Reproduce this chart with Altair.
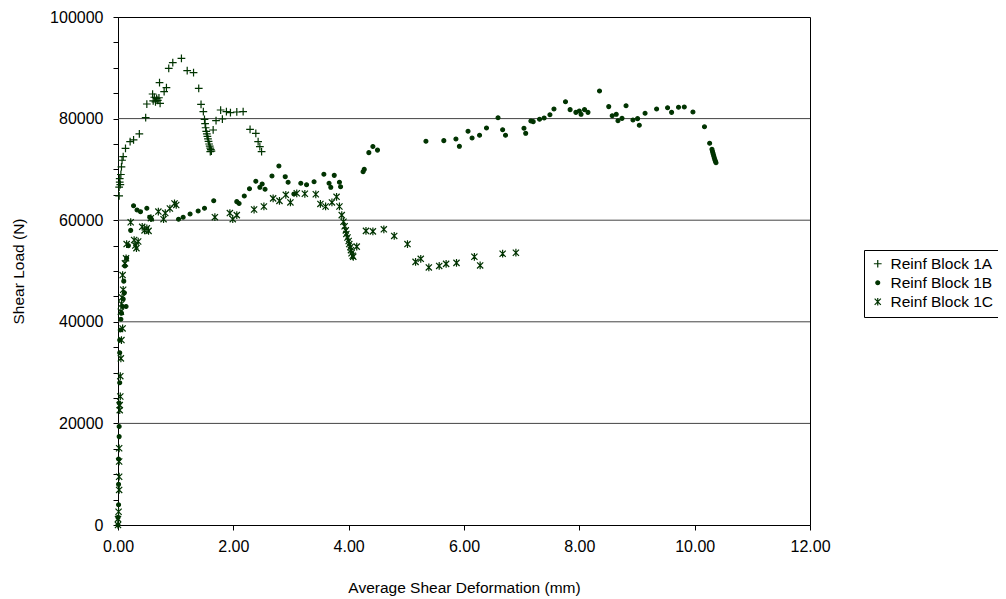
import altair as alt
import pandas as pd

# ---------------- data ----------------
series_names = ["Reinf Block 1A", "Reinf Block 1B", "Reinf Block 1C"]

a_x = [0.02, 0.02, 0.03, 0.03, 0.04, 0.05, 0.06, 0.07, 0.09, 0.13, 0.21, 0.27, 0.37, 0.48, 0.50,
       0.60, 0.61, 0.63, 0.65, 0.67, 0.69, 0.71, 0.73, 0.72, 0.80, 0.84, 0.88, 0.95, 1.10, 1.20,
       1.31, 1.40, 1.44, 1.48, 1.50, 1.51, 1.52, 1.53, 1.54, 1.55, 1.56, 1.57, 1.58, 1.59, 1.60,
       1.61, 1.62, 1.60, 1.65, 1.70, 1.78, 1.81, 1.88, 1.95, 2.06, 2.17, 2.29, 2.39, 2.43, 2.46, 2.49]
a_y = [64800, 66500, 67500, 68200, 67000, 69000, 70500, 71800, 72500, 74150, 75460, 75800, 77000, 80180, 82870,
       84840, 83500, 84200, 83300, 84000, 83600, 84100, 83000, 87070, 85300, 86100, 89900, 91000, 91860, 89430,
       89040, 85960, 82810, 81360, 79860, 79000, 78200, 77500, 77000, 76500, 76000, 75500, 75000, 74600, 74200,
       73900, 73600, 73490, 77760, 79590, 81690, 79920, 81360, 81160, 81300, 81360, 77890, 77100, 75460, 74470, 73490]

b_x = [0.00, 0.00, 0.01, 0.01, 0.01, 0.02, 0.02, 0.02, 0.03, 0.03, 0.03, 0.04, 0.05, 0.06, 0.08,
       0.09, 0.11, 0.14, 0.10, 0.12, 0.15, 0.18, 0.22,
       0.27, 0.33, 0.39, 0.50, 0.55, 0.58, 1.05, 1.13, 1.25, 1.39, 1.50, 1.66, 2.06, 2.10, 2.19,
       2.28, 2.39, 2.46, 2.50, 2.55, 2.67, 2.79, 2.90, 2.95, 3.05, 3.17, 3.27, 3.40, 3.57, 3.66,
       3.69, 3.75, 3.84, 3.86, 4.25, 4.27, 4.35, 4.42, 4.50,
       5.34, 5.65, 5.86, 5.92, 6.07, 6.14, 6.27, 6.39, 6.59, 6.67, 6.72, 7.04, 7.07, 7.16, 7.20,
       7.31, 7.39, 7.49, 7.56, 7.76, 7.84, 7.94, 8.00, 8.03, 8.09, 8.15, 8.35, 8.51, 8.57, 8.64,
       8.67, 8.74, 8.81, 8.93, 9.01, 9.04, 9.14, 9.34, 9.53, 9.60, 9.72, 9.82, 9.97, 10.17, 10.26,
       10.30, 10.31, 10.32, 10.33, 10.34, 10.35, 10.36, 10.37]
b_y = [0, 1500, 4000, 8000, 13000, 17400, 19400, 24000, 28000, 33900, 36400, 38400, 40500, 41700, 43000,
       44500, 45700, 43000, 48000, 51000, 52500, 55000, 58000,
       62860, 62000, 61680, 62340, 60570, 60180, 60180, 60570, 61220, 61810, 62340, 63840, 63650, 63300, 64760,
       66200, 67660, 66470, 67130, 66080, 68700, 70670, 68570, 67460, 65160, 67260, 66990, 67580, 69040, 67260,
       66470, 68830, 67460, 66600, 69550, 70000, 73300, 74500, 73800,
       75530, 75660, 75990, 74540, 77500, 76180, 76710, 78150, 80180, 77820, 76710, 78090, 77100, 79530, 79400,
       79860, 80120, 80770, 81890, 83330, 81760, 81230, 81500, 80840, 81760, 81230, 85430, 82360, 80570, 80840,
       79590, 80050, 82540, 79720, 79990, 78680, 81040, 81890, 82150, 81230, 82220, 82280, 81300, 78380, 75140,
       73950, 73500, 73100, 72700, 72300, 71900, 71600, 71300]

c_x = [0.00, 0.00, 0.01, 0.02, 0.02, 0.02, 0.02, 0.03, 0.03, 0.04, 0.04, 0.05, 0.06, 0.08, 0.05,
       0.06, 0.07, 0.09, 0.08, 0.12, 0.14, 0.15, 0.22, 0.28, 0.32, 0.35, 0.30, 0.42, 0.50, 0.53,
       0.46, 0.57, 0.70, 0.79, 0.82, 0.90, 0.98, 1.01, 1.68, 1.94, 1.99, 2.06, 2.36, 2.53, 2.69,
       2.80, 2.91, 2.99, 3.10, 3.24, 3.43, 3.51, 3.60, 3.71, 3.79, 3.84, 3.88, 3.91, 3.93, 3.95,
       3.96, 3.98, 4.00, 4.01, 4.03, 4.04, 4.05, 4.07, 4.08, 4.14, 4.30, 4.42, 4.61, 4.79, 5.02,
       5.16, 5.25, 5.39, 5.57, 5.69, 5.87, 6.18, 6.28, 6.67, 6.90]
c_y = [0, 1200, 2600, 6900, 9500, 12500, 15100, 22600, 23600, 25300, 29300, 32800, 36400, 38700, 42000,
       43500, 44800, 46300, 49200, 51500, 52500, 55300, 59600, 56100, 54500, 55800, 55000, 58700, 58400, 57900,
       58000, 60400, 61700, 60200, 61400, 62300, 63300, 63000, 60600, 61400, 60200, 61000, 62100, 62700, 64300,
       63800, 65000, 63500, 65300, 65200, 65100, 63200, 62700, 63500, 64600, 62700, 61000, 59700, 58800, 58000,
       57300, 56600, 55900, 55300, 54700, 54100, 53500, 53000, 52800, 54800, 57900, 57800, 58200, 56900, 55300,
       51800, 52400, 50700, 51000, 51400, 51600, 52800, 51100, 53400, 53600]

grid_values = [20000, 40000, 60000, 80000]
x_ticks = [0, 2, 4, 6, 8, 10, 12]
y_ticks = list(range(0, 100001, 5000))

# ---------------- table ----------------
rows = []
for name, xs, ys in zip(series_names, [a_x, b_x, c_x], [a_y, b_y, c_y]):
    for xv, yv in zip(xs, ys):
        rows.append({"series": name, "deformation": xv, "load": yv})
df = pd.DataFrame(rows)
grid_df = pd.DataFrame({"g": grid_values})

GREEN = "#003300"
FONT = "Liberation Sans"
shape_range = [
    "M-1,0L1,0M0,-1L0,1",
    "M-0.5,0A0.5,0.5 0 1,0 0.5,0A0.5,0.5 0 1,0 -0.5,0Z",
    "M-0.8,-0.8L0.8,0.8M0.8,-0.8L-0.8,0.8M0,-1L0,1",
]
fill_range = ["transparent", GREEN, "transparent"]

x_scale = alt.Scale(domain=[0, 12], nice=False, zero=False)
y_scale = alt.Scale(domain=[0, 100000], nice=False)

x_axis = alt.Axis(values=x_ticks, format=".2f", title="Average Shear Deformation (mm)",
                  tickSize=5, labelPadding=8, grid=False, labelFlush=False,
                  titleX=346, titleY=62, titleBaseline="middle")
y_axis = alt.Axis(values=y_ticks, format="d", title="Shear Load (N)",
                  labelExpr="datum.value % 20000 === 0 ? datum.label : ''",
                  tickSize=5, labelPadding=10, grid=False, labelFlush=False,
                  titleX=-100, titleY=254, titleAngle=270, titleAlign="center",
                  titleBaseline="middle")

legend = alt.Legend(title=None, orient="none", legendX=746, legendY=233,
                    strokeColor="black", padding=6, labelFontSize=15.5, labelFont=FONT,
                    symbolStrokeWidth=1.2, symbolSize=60, rowPadding=2, labelOffset=5,
                    fillColor="white")

grid = alt.Chart(grid_df).mark_rule(color="#444444", strokeWidth=1).encode(
    y=alt.Y("g:Q", scale=y_scale, axis=y_axis)
)

points = alt.Chart(df).mark_point(strokeWidth=1.2, opacity=1, size=60).encode(
    x=alt.X("deformation:Q", scale=x_scale, axis=x_axis),
    y=alt.Y("load:Q", scale=y_scale, axis=y_axis),
    shape=alt.Shape("series:N", scale=alt.Scale(domain=series_names, range=shape_range), legend=legend),
    fill=alt.Fill("series:N", scale=alt.Scale(domain=series_names, range=fill_range), legend=legend),
    stroke=alt.Stroke("series:N", scale=alt.Scale(domain=series_names, range=[GREEN, GREEN, GREEN]),
                      legend=legend),
)

chart = alt.layer(grid, points).properties(
    width=692, height=508,
    autosize=alt.AutoSizeParams(type="none"),
    padding={"left": 110, "top": 9, "right": 188, "bottom": 72},
    background="white",
).configure_view(
    stroke="black", strokeWidth=1
).configure_axis(
    domainColor="black", tickColor="black", labelColor="black", titleColor="black",
    labelFont=FONT, titleFont=FONT, labelFontSize=16, titleFontSize=15.5,
    titleFontWeight="normal", domainWidth=1, tickWidth=1
)

chart.save("out.html", embed_options={"renderer": "svg", "actions": False})
